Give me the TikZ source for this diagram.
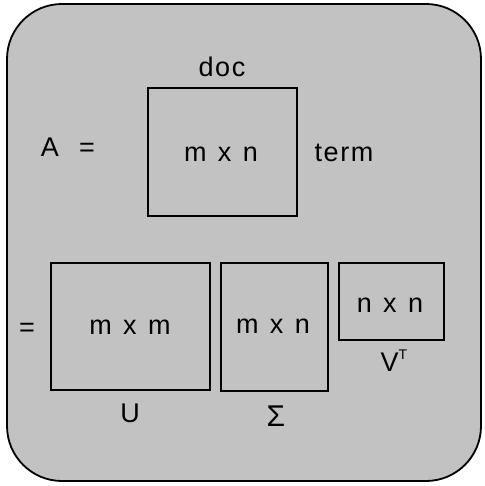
\documentclass[tikz,border=0pt]{standalone}
\usepackage{fontspec}
\setmainfont[LetterSpace=6]{Liberation Sans}
\definecolor{bggray}{gray}{0.76}
\begin{document}
\begin{tikzpicture}[x=1pt,y=-1pt,
  panel/.style={draw=black, line width=1.8pt, fill=bggray, rounded corners=55pt},
  matbox/.style={draw=black, line width=1.8pt, fill=bggray},
  lbl/.style={font=\fontsize{27}{30}\selectfont, inner sep=0pt, anchor=base, text=black}]
\useasboundingbox (0,0) rectangle (484,486);
\draw[panel] (7,4) rectangle (481,481);
% top matrix A
\node[matbox, minimum width=149pt, minimum height=128pt, inner sep=0pt, anchor=north west] (A) at (147,87) {};
\node[lbl] (doc) at (222,77) {doc};
\node[lbl] (Aeq) at (68,157) {A\hspace{0.75em}=};
\node[lbl] (Amn) at (221,162) {m\hspace{0.42em}x\hspace{0.42em}n};
\node[lbl] (term) at (344,162) {term};
% bottom matrices
\node[matbox, minimum width=159pt, minimum height=127pt, inner sep=0pt, anchor=north west] (U) at (50,262) {};
\node[matbox, minimum width=107pt, minimum height=128pt, inner sep=0pt, anchor=north west] (S) at (220,262) {};
\node[matbox, minimum width=105pt, minimum height=77pt, inner sep=0pt, anchor=north west] (V) at (338,262) {};
\node[lbl] (eq2) at (27,336) {=};
\node[lbl] (Umm) at (130,334) {m\hspace{0.42em}x\hspace{0.42em}m};
\node[lbl] (Smn) at (273,333) {m\hspace{0.42em}x\hspace{0.42em}n};
\node[lbl] (Vnn) at (390,312) {n\hspace{0.42em}x\hspace{0.42em}n};
\node[lbl] (Ulab) at (130,422) {U};
\node[lbl, font=\fontsize{30}{32}\selectfont] (Slab) at (276,426) {Σ};
\node[lbl] (Vlab) at (394,371) {V\raisebox{0.42em}{\fontsize{14}{14}\selectfont T}};
\end{tikzpicture}
\end{document}
